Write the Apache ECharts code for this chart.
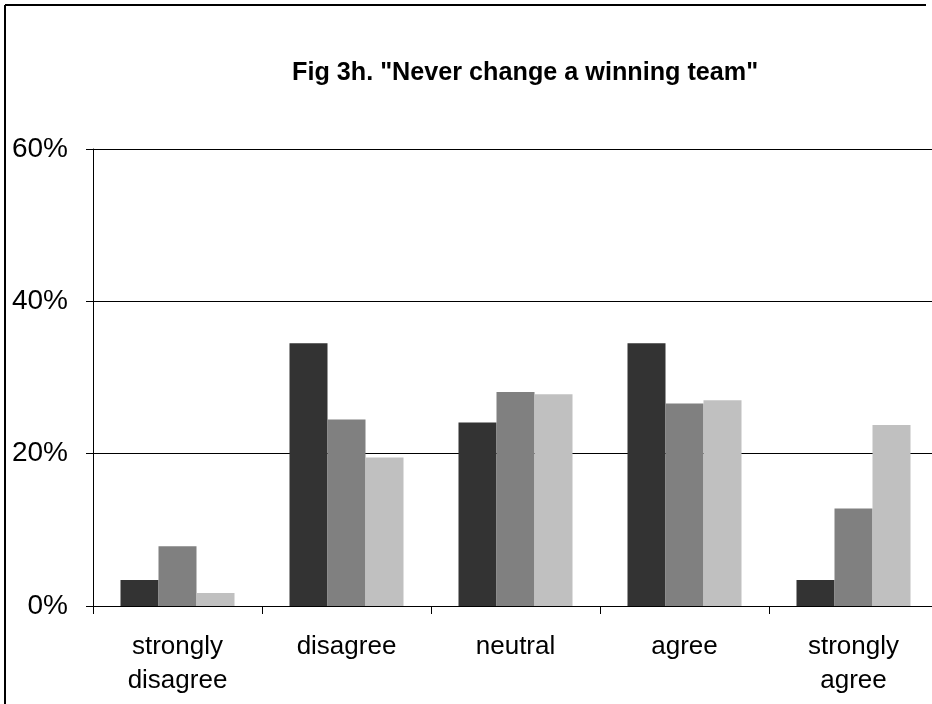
<!DOCTYPE html>
<html>
<head>
<meta charset="utf-8">
<style>
  html, body { margin: 0; padding: 0; background: #fff; overflow: hidden; }
  #chart { width: 932px; height: 704px; }
</style>
<script src="https://cdn.jsdelivr.net/npm/echarts@6/dist/echarts.min.js"></script>
</head>
<body>
<div id="chart"></div>
<script>
// answer categories
const categories = ['strongly\ndisagree', 'disagree', 'neutral', 'agree', 'strongly\nagree']
// three groups, values in %
const darkValues = [3.4, 34.5, 24.1, 34.5, 3.4]
const midValues = [7.85, 24.5, 28.1, 26.6, 12.8]
const lightValues = [1.7, 19.5, 27.8, 27.0, 23.75]

const colors = ['#333333', '#808080', '#c0c0c0']
const font = 'Liberation Sans, Arial, sans-serif'

const chart = echarts.init(document.getElementById('chart'))

const bar = (name, data, index) => ({
  name: name,
  type: 'bar',
  data: data,
  barWidth: 38,
  barGap: '0%',
  itemStyle: { color: colors[index] },
  animation: false
})

chart.setOption({
  backgroundColor: '#fff',
  title: {
    text: 'Fig 3h. "Never change a winning team"',
    left: 287,
    top: 56,
    textStyle: {
      fontFamily: font,
      fontSize: 25.2,
      fontWeight: 'bold',
      color: '#000'
    }
  },
  // outer frame: left and top edges only
  graphic: [{
    type: 'line',
    shape: { x1: 5, y1: 5, x2: 5, y2: 704 },
    style: { stroke: '#000', lineWidth: 2 }
  }, {
    type: 'line',
    shape: { x1: 5, y1: 5, x2: 926, y2: 5 },
    style: { stroke: '#000', lineWidth: 2 }
  }],
  grid: {
    left: 93,
    width: 845,
    top: 149,
    bottom: 98,
    outerBoundsMode: 'none'
  },
  xAxis: {
    type: 'category',
    data: categories,
    axisLine: { lineStyle: { color: '#000', width: 1 } },
    axisTick: { show: true, length: 8, lineStyle: { color: '#000' } },
    axisLabel: {
      margin: 24,
      color: '#000',
      fontFamily: font,
      fontSize: 26,
      lineHeight: 34
    }
  },
  yAxis: {
    type: 'value',
    min: 0,
    max: 60,
    interval: 20,
    axisLine: { show: true, lineStyle: { color: '#000', width: 1 } },
    axisTick: { show: true, length: 7, lineStyle: { color: '#000' } },
    splitLine: { lineStyle: { color: '#000', width: 1 } },
    axisLabel: {
      formatter: '{value}%',
      margin: 25,
      color: '#000',
      fontFamily: font,
      fontSize: 28
    }
  },
  series: [
    bar('group 1', darkValues, 0),
    bar('group 2', midValues, 1),
    bar('group 3', lightValues, 2)
  ]
})
</script>
</body>
</html>
